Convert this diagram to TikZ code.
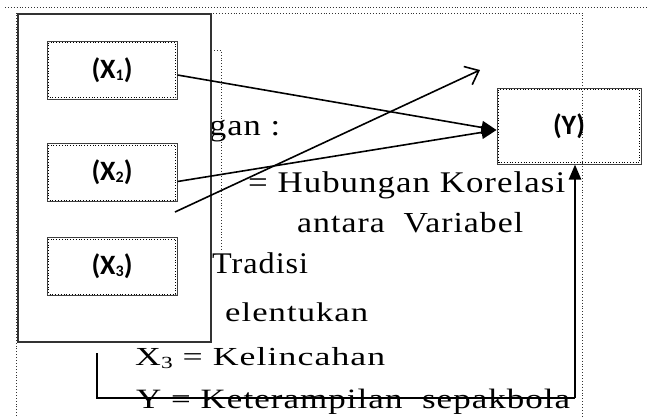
\documentclass[tikz,border=0pt]{standalone}
\usepackage{fontspec}
\usepackage{graphicx}
\setmainfont{Liberation Serif}
\newfontfamily\labfont{Carlito}
\newfontfamily\wide{Liberation Serif}[LetterSpace=3]
\usetikzlibrary{arrows.meta}
\newcommand\fitw[2]{\resizebox{#1}{\height}{#2}}
\newcommand\subd[1]{\raisebox{-3pt}{\fontsize{17}{17}\selectfont #1}}
\newcommand\lsub[1]{\raisebox{-2pt}{\fontsize{16}{16}\selectfont #1}}
\begin{document}
\begin{tikzpicture}[x=1pt,y=-1pt,
  varbox/.style={draw=black!75, line width=1pt, rectangle, inner sep=0pt,
    minimum width=130pt, minimum height=58pt, font=\labfont\bfseries\fontsize{28}{28}\selectfont},
  conn/.style={line width=1.6pt, black},
  txt/.style={anchor=base west, inner sep=0pt, font=\wide\fontsize{30}{30}\selectfont},
  frame/.style={dotted, line width=0.9pt, black!80}]
\useasboundingbox (0,0) rectangle (648,416);
% outer dotted frames
\draw[frame] (5,7) -- (648,7);
\draw[frame] (16,416) -- (16,13) -- (582,13) -- (582,416);
\draw[frame] (214,50) -- (221,50) -- (221,251);
% texts
\node[txt] (t1) at (209,135) {\fitw{71pt}{gan :}};
\node[txt] (t2) at (248,192) {\fitw{317pt}{= Hubungan Korelasi}};
\node[txt, font=\wide\fontsize{29}{30}\selectfont] (t3) at (297,232) {\fitw{226pt}{antara \ Variabel}};
\node[txt] (t4) at (212,273) {\fitw{96pt}{Tradisi}};
\node[txt, font=\wide\fontsize{27}{30}\selectfont] (t5) at (225,321) {\fitw{143pt}{elentukan}};
\node[txt, font=\wide\fontsize{26}{30}\selectfont] (t6) at (135,365) {\fitw{250pt}{X\subd{3} = Kelincahan}};
\node[txt, font=\wide\fontsize{28}{30}\selectfont] (t7) at (136,408) {\fitw{434pt}{Y = Keterampilan \ sepakbola}};
% big box
\draw[line width=1.4pt, black!80] (18,14) rectangle (211,342);
% variable boxes
\node[varbox] (X1) at (112,70) {(X\lsub{1})};
\node[varbox] (X2) at (112,172.5) {(X\lsub{2})};
\node[varbox] (X3) at (112,266.5) {(X\lsub{3})};
\node[varbox, minimum width=144pt, minimum height=76pt] (Y) at (569,126) {(Y)};
\foreach \n in {X1,X2,X3,Y}
  \draw[dotted, line width=0.8pt] ([xshift=2pt,yshift=-2pt]\n.north west) rectangle ([xshift=-2pt,yshift=2pt]\n.south east);
% connectors
\coordinate (x3s) at (175,212);
\coordinate (x3e) at (480,70);
\coordinate (c1) at (97,353);
\coordinate (c2) at (575,398);
\draw[conn, -{Triangle[length=15pt,width=13pt]}] ([yshift=-5pt]X1.east) -- ([yshift=-4pt]Y.west);
\draw[conn, -{Triangle[length=15pt,width=13pt]}] ([yshift=-9pt]X2.east) -- ([yshift=-4pt]Y.west);
\draw[conn, -{Straight Barb[length=12pt,width=20pt]}] (x3s) -- (x3e);
\draw[line width=1.4pt] (c1) |- (c2);
\draw[line width=2.4pt, -{Triangle[length=15pt,width=12pt]}] (c2) -- (c2 |- Y.south);
\end{tikzpicture}
\end{document}
